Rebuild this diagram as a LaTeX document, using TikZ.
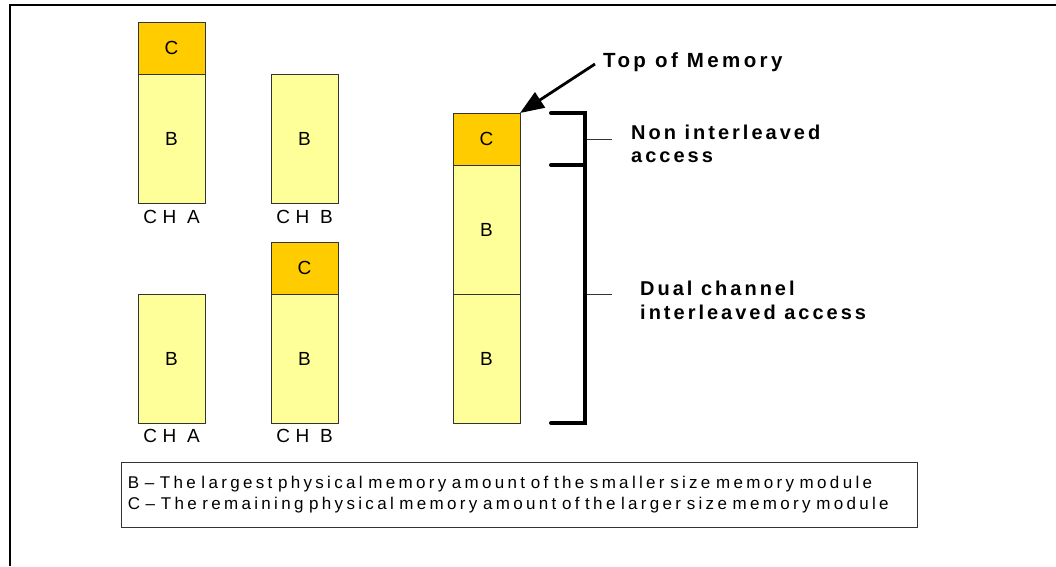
\documentclass[tikz,border=0pt]{standalone}
\usepackage{fontspec}
\setmainfont{Liberation Sans}
\newfontfamily\chfont[LetterSpace=29]{Liberation Sans}
\newfontfamily\keyfont[LetterSpace=19.5]{Liberation Sans}
\newfontfamily\tagfont[LetterSpace=15]{Liberation Sans}
\newfontfamily\topfont[LetterSpace=16.5]{Liberation Sans}
\usetikzlibrary{arrows.meta}
\definecolor{cfill}{HTML}{FFCC00}
\definecolor{bfill}{HTML}{FFFF99}
\tikzset{
  membox/.style={draw=black!80, line width=1pt, minimum width=67pt, inner sep=0pt, outer sep=0pt, font=\fontsize{19}{21}\selectfont},
  cpart/.style={membox, fill=cfill, minimum height=52pt},
  bpart/.style={membox, fill=bfill, minimum height=129pt},
  chlabel/.style={inner sep=0pt, font=\chfont\fontsize{19}{21}\selectfont},
  tag/.style={inner sep=0pt, align=left, font=\tagfont\bfseries\fontsize{20}{23.5}\selectfont},
  bracket/.style={line width=4pt, line cap=round},
  leader/.style={line width=0.6pt, black!80},
}
\begin{document}
\begin{tikzpicture}[x=1pt, y=-1pt]
\useasboundingbox (0,0) rectangle (1056,566);
\draw[line width=2pt] (1056,5) -- (10,5) -- (10,566);
% first pair
\node[cpart] (ac1) at (171.5,48) {C};
\node[bpart] (ab1) at (171.5,138.5) {B};
\node[bpart] (bb1) at (304.5,138.5) {B};
\node[chlabel] (cha1) at (171.5,216.5) {CH A};
\node[chlabel] (chb1) at (304.5,216.5) {CH B};
% second pair
\node[bpart] (ab2) at (171.5,358.5) {B};
\node[cpart] (bc2) at (304.5,268) {C};
\node[bpart] (bb2) at (304.5,358.5) {B};
\node[chlabel] (cha2) at (171.5,436) {CH A};
\node[chlabel] (chb2) at (304.5,436) {CH B};
% combined map
\node[cpart] (rc) at (486.5,139) {C};
\node[bpart] (rb1) at (486.5,229.5) {B};
\node[bpart] (rb2) at (486.5,358.5) {B};
\draw[bracket] (551,113) -- (585,113) -- (585,423) -- (551,423);
\draw[bracket] (551,165) -- (585,165);
\draw[leader] (587,139) -- (612,139);
\draw[leader] (587,294) -- (612,294);
\node[tag, anchor=north west] (nonint) at (631,124.7) {Non interleaved\\access};
\node[tag, anchor=north west] (dualch) at (640,281) {Dual channel\\interleaved access};
\node[tag, font=\topfont\bfseries\fontsize{20.5}{23.5}\selectfont, anchor=base west] (tom) at (603,67.3) {Top of Memory};
\draw[line width=2.8pt, -{Triangle[length=24pt,width=18pt]}] ([xshift=-8pt,yshift=-2pt]tom.west) -- (rc.north east);
% key
\node[draw=black!80, line width=1pt, minimum width=795.5pt, minimum height=64.3pt,
      text width=783.5pt, inner xsep=6pt, align=left, font=\keyfont\fontsize{17}{21}\selectfont]
  (key) at (519.5,494.85) {B – The largest physical memory amount of the smaller size memory module\\
  C – The remaining physical memory amount of the larger size memory module};
\end{tikzpicture}
\end{document}
